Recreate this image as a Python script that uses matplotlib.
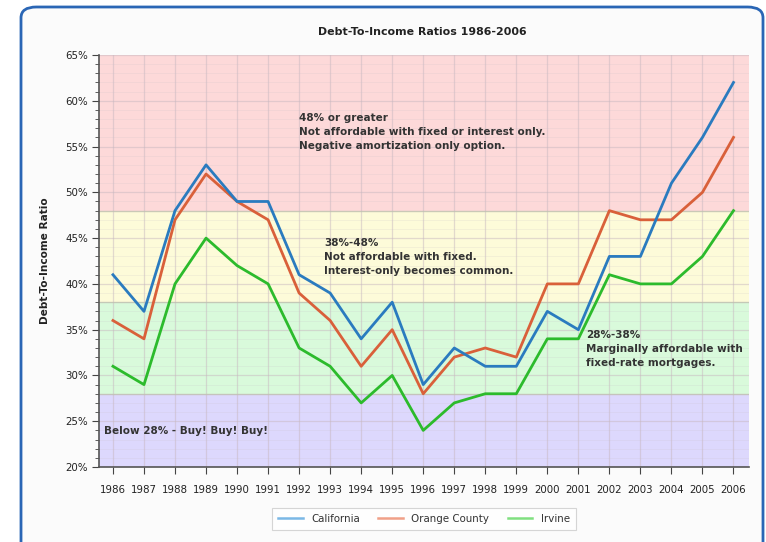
import matplotlib
matplotlib.use("Agg")
import matplotlib.pyplot as plt
from matplotlib.patches import FancyBboxPatch
from matplotlib.ticker import MultipleLocator, FuncFormatter
from matplotlib.lines import Line2D

years = list(range(1986, 2007))
california = [41, 37, 48, 53, 49, 49, 41, 39, 34, 38, 29, 33, 31, 31, 37, 35, 43, 43, 51, 56, 62]
orange_county = [36, 34, 47, 52, 49, 47, 39, 36, 31, 35, 28, 32, 33, 32, 40, 40, 48, 47, 47, 50, 56]
irvine = [31, 29, 40, 45, 42, 40, 33, 31, 27, 30, 24, 27, 28, 28, 34, 34, 41, 40, 40, 43, 48]

bands = [(20, 28, "#ddd8fd"), (28, 38, "#d9fadb"), (38, 48, "#fdfbd9"), (48, 65, "#fdd9d9")]
band_texts = [
    (1992.0, 58.7, "48% or greater\nNot affordable with fixed or interest only.\nNegative amortization only option."),
    (1992.8, 45.0, "38%-48%\nNot affordable with fixed.\nInterest-only becomes common."),
    (2001.25, 34.95, "28%-38%\nMarginally affordable with\nfixed-rate mortgages."),
    (1985.72, 24.45, "Below 28% - Buy! Buy! Buy!"),
]

W, H = 766, 542
fig = plt.figure(figsize=(W / 100, H / 100), dpi=100)
fig.patch.set_facecolor("white")

# panel
panel = FancyBboxPatch((21 / W, -0.05), (763 - 21) / W, (542 - 7) / H + 0.05,
                       boxstyle="round,pad=0,rounding_size=0.02",
                       transform=fig.transFigure, facecolor="#fbfbfb",
                       edgecolor="#2a66b5", linewidth=2.0, zorder=-5)
fig.patches.append(panel)

left, right, top, bottom = 99, 749, 55, 467
ax = fig.add_axes([left / W, 1 - bottom / H, (right - left) / W, (bottom - top) / H])
ax.set_zorder(2)
ax.set_facecolor("none")
ax.set_xlim(1985.55, 2006.5)
ax.set_ylim(20, 65)

for lo, hi, c in bands:
    ax.axhspan(lo, hi, color=c, zorder=0, lw=0)
for b in (28, 38, 48):
    ax.axhline(b, color="#c0c0b0", lw=1.0, zorder=1, alpha=0.8)

ax.yaxis.set_major_locator(MultipleLocator(5))
ax.yaxis.set_minor_locator(MultipleLocator(1))
ax.yaxis.set_major_formatter(FuncFormatter(lambda v, p: f"{int(v)}%"))
ax.set_xticks(years)
ax.set_xticklabels([str(y) for y in years])
ax.grid(True, which="major", axis="both", color="#c8b8c0", lw=0.9, alpha=0.5, zorder=1)
ax.grid(True, which="minor", axis="y", color="#c8c0c8", lw=0.6, alpha=0.22, zorder=1)
ax.set_axisbelow(True)

for s in ("top", "right"):
    ax.spines[s].set_visible(False)
for s in ("left", "bottom"):
    ax.spines[s].set_color("#555555")
    ax.spines[s].set_linewidth(1.2)
ax.tick_params(axis="both", which="major", length=5, color="#444444", labelsize=7.4,
               labelcolor="#222222", pad=3)
ax.tick_params(axis="y", which="minor", length=3, color="#444444")
ax.tick_params(axis="x", pad=8)

ax.plot(years, california, color="#2a7bbf", lw=2.0, zorder=4, label="California")
ax.plot(years, orange_county, color="#d9603a", lw=2.0, zorder=3, label="Orange County")
ax.plot(years, irvine, color="#2cbb2c", lw=2.0, zorder=2, label="Irvine")

for x, y, t in band_texts:
    ax.text(x, y, t, fontsize=7.5, fontweight="bold", color="#333333",
            va="top", ha="left", linespacing=1.5, zorder=5)

ax.set_ylabel("Debt-To-Income Ratio", fontsize=7.6, fontweight="bold", color="#222222", labelpad=11)
fig.text(422 / W, 1 - 32 / H, "Debt-To-Income Ratios 1986-2006", fontsize=7.9,
         fontweight="bold", color="#222222", ha="center", va="center")

handles = [Line2D([], [], color="#7bb8e6", lw=1.8),
           Line2D([], [], color="#f0a088", lw=1.8),
           Line2D([], [], color="#80e080", lw=1.8)]
leg = fig.legend(handles, ["California", "Orange County", "Irvine"], loc="center",
                 bbox_to_anchor=(424 / W, 1 - 519 / H), ncol=3, fontsize=7.4,
                 frameon=True, fancybox=False, edgecolor="#cccccc", handlelength=2.4,
                 columnspacing=1.8, borderpad=0.6, shadow=False)
leg.get_frame().set_linewidth(0.8)
for t in leg.get_texts():
    t.set_color("#333333")

fig.savefig("out.png", dpi=100)
